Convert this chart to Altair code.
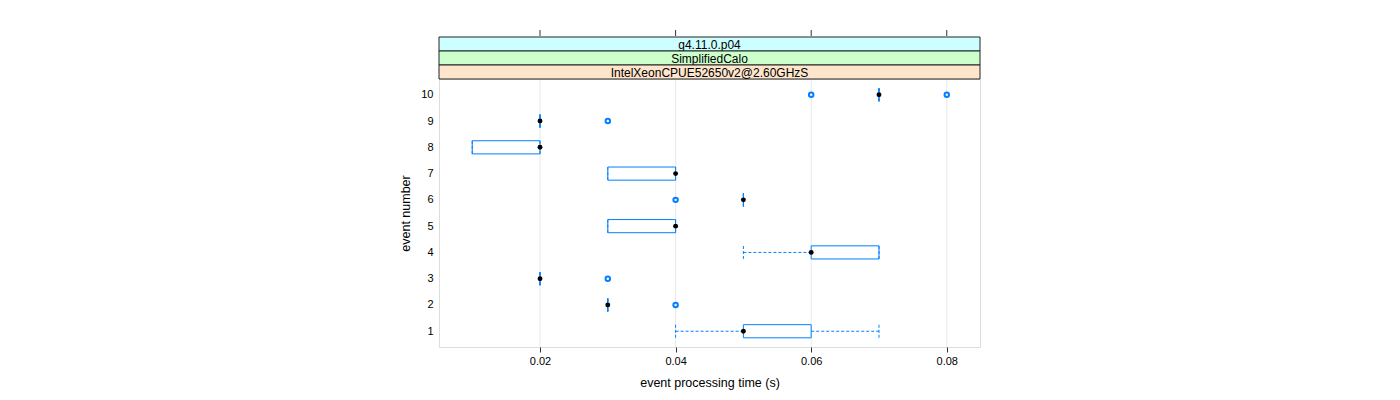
import altair as alt
import pandas as pd

# ---- data ----
events = [1, 2, 3, 4, 5, 6, 7, 8, 9, 10]
q1 = [0.05, 0.03, 0.02, 0.06, 0.03, 0.05, 0.03, 0.01, 0.02, 0.07]
median = [0.05, 0.03, 0.02, 0.06, 0.04, 0.05, 0.04, 0.02, 0.02, 0.07]
q3 = [0.06, 0.03, 0.02, 0.07, 0.04, 0.05, 0.04, 0.02, 0.02, 0.07]
whisk_lo = [0.04, 0.03, 0.02, 0.05, 0.03, 0.05, 0.03, 0.01, 0.02, 0.07]
whisk_hi = [0.07, 0.03, 0.02, 0.07, 0.04, 0.05, 0.04, 0.02, 0.02, 0.07]
out_event = [2, 3, 6, 9, 10, 10]
out_value = [0.04, 0.03, 0.04, 0.03, 0.06, 0.08]
tick_values = [0.02, 0.04, 0.06, 0.08]
strip_labels = ["g4.11.0.p04", "SimplifiedCalo", "IntelXeonCPUE52650v2@2.60GHzS"]

W, H = 541, 268
BLUE = "#0080ff"
FONT = "Liberation Sans"

box_df = pd.DataFrame({"event": events, "q1": q1, "med": median, "q3": q3,
                       "wlo": whisk_lo, "whi": whisk_hi})
out_df = pd.DataFrame({"event": out_event, "value": out_value})
tick_df = pd.DataFrame({"tick": tick_values})

xscale = alt.Scale(domain=[0.0051, 0.0849], nice=False, zero=False)
yscale = alt.Scale(domain=[0.4, 10.6], nice=False, zero=False)
xaxis = alt.Axis(values=tick_values, format=".2f", title="event processing time (s)",
                 grid=False, domain=False, tickSize=5, tickColor="#333333",
                 labelFontSize=11, titleFontSize=12.5, labelPadding=3, titlePadding=10,
                 labelColor="black", titleColor="black", titleFontWeight="normal",
                 labelFont=FONT, titleFont=FONT)
yaxis = alt.Axis(values=events, format="d", title="event number", grid=False,
                 domain=False, ticks=False, tickSize=0, labelPadding=6, titlePadding=8,
                 labelFontSize=11, titleFontSize=12.5, labelColor="black",
                 titleColor="black", titleFontWeight="normal", labelFont=FONT, titleFont=FONT)


def X(field):
    return alt.X(field, type="quantitative", scale=xscale, axis=xaxis)


def Y(field):
    return alt.Y(field, type="quantitative", scale=yscale, axis=yaxis)


base = alt.Chart(box_df).transform_calculate(
    ylo="datum.event - 0.25", yhi="datum.event + 0.25")

grid = alt.Chart(tick_df).mark_rule(color="#e8e8e8", strokeWidth=1).encode(
    x=X("tick"), y=alt.value(0), y2=alt.value(H))

top_ticks = alt.Chart(tick_df).mark_rule(color="#333333", strokeWidth=1).encode(
    x=X("tick"), y=alt.value(-49), y2=alt.value(-43))

dash = [3, 2]
wh_lo = base.mark_rule(color=BLUE, strokeDash=dash, strokeWidth=1).encode(
    x=X("wlo"), x2="q1", y=Y("event"))
wh_hi = base.mark_rule(color=BLUE, strokeDash=dash, strokeWidth=1).encode(
    x=X("q3"), x2="whi", y=Y("event"))
cap_lo = base.mark_rule(color=BLUE, strokeDash=dash, strokeWidth=1).encode(
    x=X("wlo"), y=Y("ylo:Q"), y2="yhi:Q")
cap_hi = base.mark_rule(color=BLUE, strokeDash=dash, strokeWidth=1).encode(
    x=X("whi"), y=Y("ylo:Q"), y2="yhi:Q")
boxes = base.mark_rect(fill="white", fillOpacity=0, stroke=BLUE, strokeWidth=1).encode(
    x=X("q1"), x2="q3", y=Y("ylo:Q"), y2="yhi:Q")
outliers = alt.Chart(out_df).mark_point(shape="circle", filled=False, color=BLUE,
                                        strokeWidth=2, size=20, opacity=1).encode(
    x=X("value"), y=Y("event"))
medians = base.mark_circle(color="black", size=24, opacity=1).encode(
    x=X("med"), y=Y("event"))

strip_fills = ["#ccffff", "#ccffcc", "#ffe5cc"]
strip_top = [-42, -28, -14]
strip_layers = []
for lab, fill, top in zip(strip_labels, strip_fills, strip_top):
    sdf = pd.DataFrame({"label": [lab]})
    rect = alt.Chart(sdf).mark_rect(fill=fill, stroke="#222222", strokeWidth=1).encode(
        x=alt.value(0), x2=alt.value(W), y=alt.value(top), y2=alt.value(top + 14))
    txt = alt.Chart(sdf).mark_text(fontSize=12, font=FONT, color="black",
                                   baseline="middle", align="center").encode(
        x=alt.value(W / 2), y=alt.value(top + 7.5), text="label:N")
    strip_layers += [rect, txt]

chart = alt.layer(
    grid, wh_lo, wh_hi, cap_lo, cap_hi, boxes, outliers, medians, top_ticks, *strip_layers
).properties(
    width=W, height=H,
    autosize=alt.AutoSizeParams(type="none"),
    padding={"left": 431, "top": 71, "right": 412, "bottom": 45},
).configure_view(
    stroke="#444444", strokeWidth=1
).configure(font=FONT, background="white")

chart.save("out.html", embed_options={"renderer": "svg", "actions": False})
